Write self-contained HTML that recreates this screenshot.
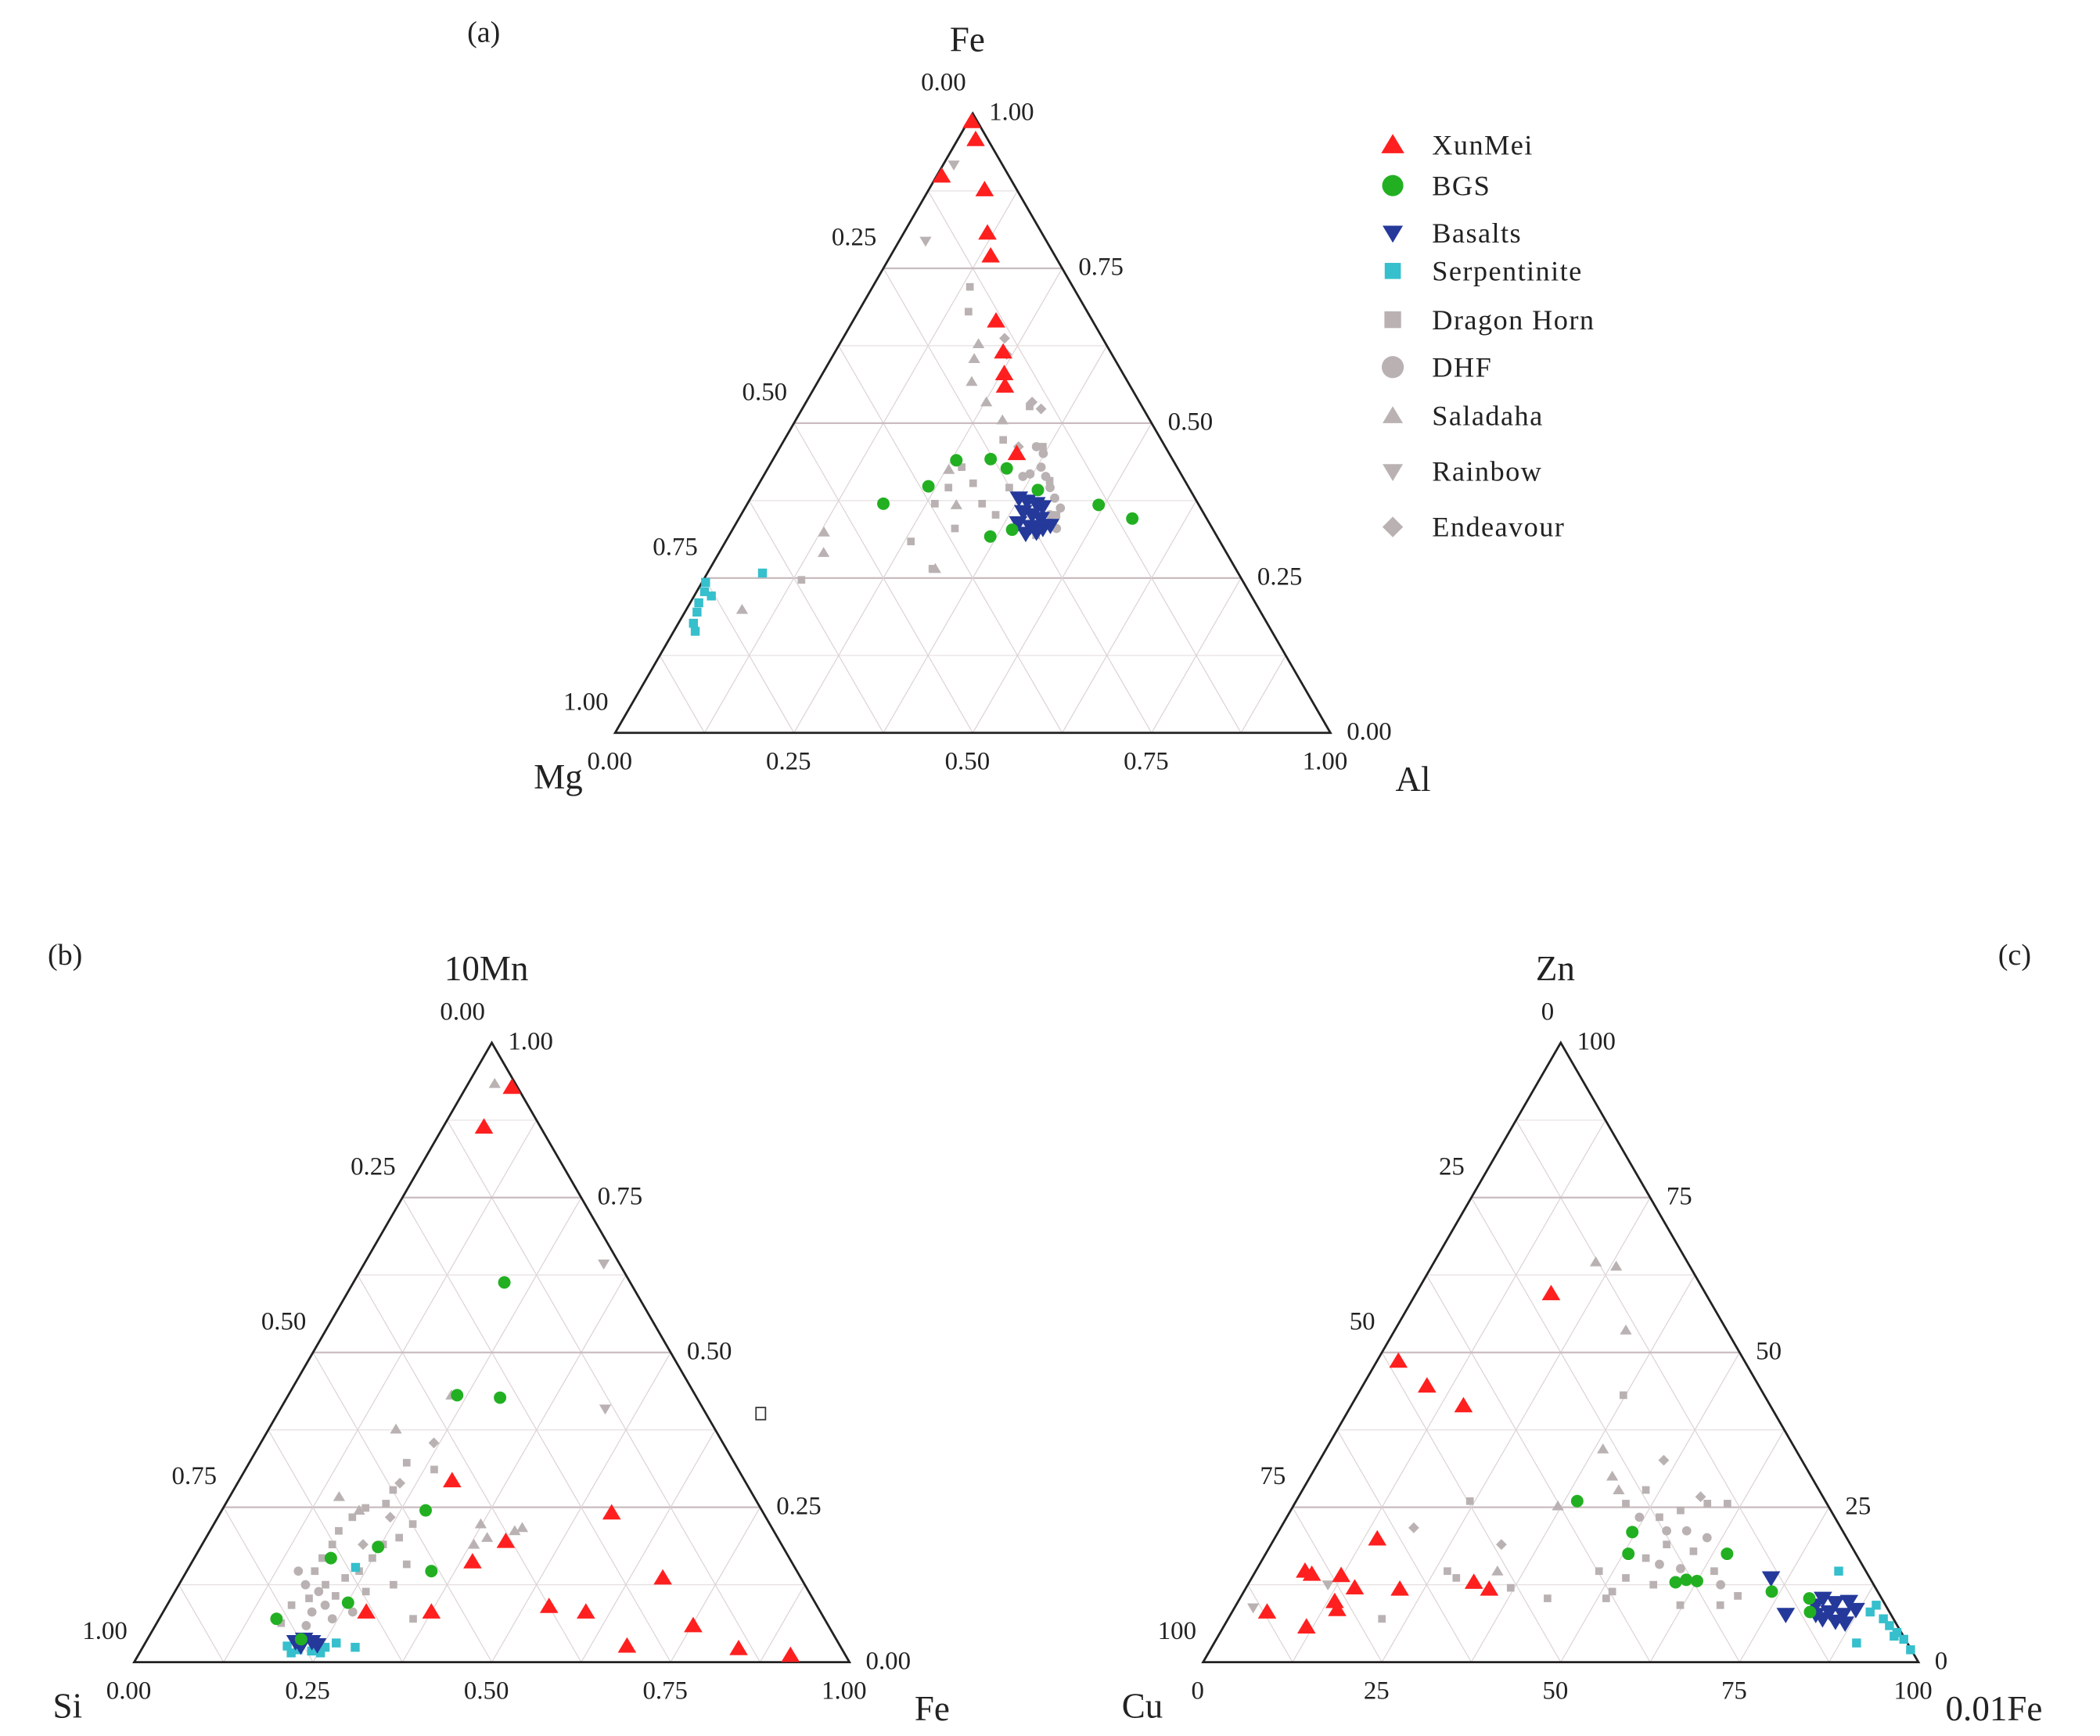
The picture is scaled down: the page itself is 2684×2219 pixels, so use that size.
<!DOCTYPE html>
<html><head><meta charset="utf-8"><style>
html,body{margin:0;padding:0;background:#fff}
svg{display:block}
text{font-family:"Liberation Serif",serif;fill:#222}
</style></head><body>
<svg id="fig" xmlns="http://www.w3.org/2000/svg" width="2684" height="2219" viewBox="0 0 1550 1281.5">
<rect x="0" y="0" width="1550" height="1281.5" fill="#fff"/>
<g id="layer"></g>
</svg>
<script>
// ---------- data (top, right) fractions ----------
const ticksAB = ["0.00","0.25","0.50","0.75","1.00"];
const ticksC = ["0","25","50","75","100"];
const seriesNames = ["XunMei","BGS","Basalts","Serpentinite","Dragon Horn","DHF","Saladaha","Rainbow","Endeavour"];

// chart a: top=Fe, right=Al
const aXunMei=[[0.987,0.005],[0.958,0.025],[0.899,0.007],[0.877,0.078],[0.807,0.117],[0.770,0.14],[0.665,0.20],[0.615,0.235],[0.580,0.254],[0.560,0.265],[0.451,0.336]];
const aBGS=[[0.370,0.19],[0.398,0.239],[0.44,0.257],[0.442,0.304],[0.427,0.334],[0.392,0.395],[0.368,0.492],[0.346,0.55],[0.317,0.366],[0.328,0.391]];
const aBasalts=[[0.379,0.375],[0.374,0.389],[0.370,0.404],[0.365,0.415],[0.357,0.392],[0.352,0.407],[0.346,0.422],[0.339,0.394],[0.333,0.414],[0.330,0.433],[0.322,0.413],[0.324,0.427],[0.335,0.441]];
const aSerp=[[0.243,0.005],[0.228,0.011],[0.210,0.012],[0.195,0.017],[0.177,0.021],[0.164,0.03],[0.221,0.024],[0.258,0.077]];
const aDragon=[[0.720,0.136],[0.680,0.154],[0.429,0.27],[0.403,0.299],[0.396,0.353],[0.396,0.268],[0.370,0.262],[0.330,0.31],[0.309,0.259],[0.265,0.311],[0.247,0.137],[0.473,0.306],[0.527,0.316],[0.462,0.367],[0.407,0.404],[0.352,0.441],[0.352,0.356],[0.370,0.328],[0.319,0.429]];
const aDHF=[[0.462,0.358],[0.451,0.373],[0.429,0.381],[0.414,0.395],[0.396,0.41],[0.379,0.425],[0.370,0.413],[0.392,0.393],[0.418,0.371],[0.352,0.432],[0.330,0.452],[0.414,0.363],[0.363,0.441]];
const aSaladaha=[[0.628,0.194],[0.604,0.2],[0.567,0.215],[0.534,0.252],[0.425,0.254],[0.368,0.293],[0.324,0.13],[0.291,0.146],[0.265,0.315],[0.199,0.078],[0.505,0.289]];
const aRainbow=[[0.917,0.015],[0.794,0.037]];
const aEndeavour=[[0.637,0.226],[0.611,0.242],[0.534,0.316],[0.523,0.334],[0.462,0.333]];

// chart b: top=10Mn, right=Fe
const bXunMei=[[0.928,0.064],[0.864,0.057],[0.293,0.298],[0.195,0.422],[0.162,0.392],[0.081,0.375],[0.081,0.284],[0.241,0.547],[0.136,0.671],[0.090,0.535],[0.081,0.591],[0.059,0.752],[0.026,0.676],[0.022,0.834],[0.011,0.912]];
const bBGS=[[0.613,0.211],[0.431,0.236],[0.427,0.298],[0.245,0.285],[0.186,0.248],[0.168,0.191],[0.147,0.342],[0.096,0.251],[0.070,0.164],[0.037,0.215]];
const bBasalts=[[0.033,0.209],[0.037,0.219],[0.033,0.232],[0.026,0.22],[0.028,0.242]];
const bSerp=[[0.153,0.233],[0.026,0.201],[0.020,0.219],[0.018,0.239],[0.024,0.255],[0.031,0.267],[0.024,0.297],[0.015,0.212],[0.015,0.253]];
const bDragon=[[0.322,0.22],[0.278,0.223],[0.256,0.224],[0.249,0.199],[0.234,0.188],[0.212,0.18],[0.190,0.182],[0.168,0.179],[0.147,0.179],[0.125,0.205],[0.103,0.193],[0.107,0.228],[0.136,0.227],[0.147,0.241],[0.168,0.249],[0.190,0.253],[0.201,0.27],[0.223,0.278],[0.311,0.264],[0.092,0.174],[0.063,0.174],[0.158,0.302],[0.125,0.3],[0.114,0.267],[0.070,0.355]];
const bDHF=[[0.147,0.156],[0.125,0.177],[0.114,0.201],[0.081,0.208],[0.070,0.242],[0.092,0.221],[0.081,0.265],[0.059,0.211]];
const bSaladaha=[[0.934,0.037],[0.376,0.178],[0.431,0.228],[0.245,0.192],[0.267,0.153],[0.223,0.373],[0.201,0.393],[0.212,0.426],[0.190,0.38],[0.217,0.434]];
const bRainbow=[[0.643,0.335],[0.409,0.454]];
const bEndeavour=[[0.289,0.227],[0.234,0.241],[0.354,0.242],[0.190,0.225]];

// chart c: top=Zn, right=0.01Fe
const cXunMei=[[0.595,0.189],[0.486,0.03],[0.446,0.09],[0.414,0.157],[0.199,0.144],[0.147,0.069],[0.142,0.081],[0.140,0.123],[0.120,0.152],[0.118,0.216],[0.129,0.314],[0.118,0.341],[0.098,0.135],[0.085,0.145],[0.081,0.049],[0.057,0.116]];
const cBGS=[[0.260,0.393],[0.210,0.495],[0.175,0.507],[0.129,0.596],[0.133,0.609],[0.131,0.625],[0.175,0.645],[0.114,0.738],[0.103,0.796],[0.081,0.808]];
const cBasalts=[[0.136,0.726],[0.077,0.776],[0.092,0.81],[0.103,0.815],[0.081,0.835],[0.096,0.836],[0.077,0.856],[0.098,0.854],[0.085,0.87],[0.070,0.831],[0.066,0.851],[0.077,0.818],[0.063,0.866]];
const cSerp=[[0.147,0.815],[0.031,0.898],[0.081,0.892],[0.070,0.916],[0.059,0.93],[0.048,0.946],[0.037,0.961],[0.020,0.979],[0.092,0.895],[0.042,0.945]];
const cDragon=[[0.256,0.463],[0.278,0.48],[0.234,0.521],[0.245,0.545],[0.256,0.577],[0.256,0.605],[0.190,0.553],[0.168,0.535],[0.179,0.596],[0.147,0.641],[0.136,0.523],[0.114,0.515],[0.125,0.567],[0.103,0.512],[0.107,0.694],[0.092,0.677],[0.431,0.372],[0.260,0.243],[0.147,0.268],[0.070,0.215],[0.136,0.286],[0.120,0.37],[0.103,0.43],[0.092,0.621],[0.147,0.48]];
const cDHF=[[0.234,0.493],[0.212,0.542],[0.212,0.57],[0.201,0.604],[0.158,0.559],[0.151,0.592],[0.125,0.661]];
const cSaladaha=[[0.646,0.226],[0.639,0.258],[0.536,0.323],[0.344,0.387],[0.300,0.422],[0.252,0.37],[0.147,0.338],[0.278,0.442]];
const cRainbow=[[0.088,0.026],[0.125,0.112]];
const cEndeavour=[[0.217,0.186],[0.326,0.481],[0.267,0.562],[0.190,0.322]];

// ---------- drawing ----------
const NS="http://www.w3.org/2000/svg";
const layer=document.getElementById('layer');
const tris={a:{x0:454,y0:541,s:528},b:{x0:99,y0:1227,s:528},c:{x0:888,y0:1227,s:528}};
function P(t,top,right){const h=t.s*Math.sqrt(3)/2;return [t.x0+t.s*(right+top/2),t.y0-h*top];}
function mk(tag,attrs,parent){const e=document.createElementNS(NS,tag);for(const k in attrs)e.setAttribute(k,attrs[k]);(parent||layer).appendChild(e);return e;}
function txt(x,y,s,size,anchor,parent){const e=mk('text',{x:x,y:y,'font-size':size,'text-anchor':anchor||'middle'},parent);e.textContent=s;return e;}

const styles={
 XunMei:{shape:'up',fill:'#ff1f1f',r:6.5},
 BGS:{shape:'circle',fill:'#22b022',r:4.6},
 Basalts:{shape:'down',fill:'#24399a',r:6.5},
 Serpentinite:{shape:'square',fill:'#36bfcc',r:3.3},
 'Dragon Horn':{shape:'square',fill:'#bab2b2',r:2.8},
 DHF:{shape:'circle',fill:'#bab2b2',r:3.4},
 Saladaha:{shape:'up',fill:'#bab2b2',r:4.2},
 Rainbow:{shape:'down',fill:'#bab2b2',r:4.2},
 Endeavour:{shape:'diamond',fill:'#bab2b2',r:4}
};
function marker(shape,x,y,r,fill,parent){
 let e;
 if(shape==='circle')e=mk('circle',{cx:x,cy:y,r:r,fill:fill},parent);
 else if(shape==='square')e=mk('rect',{x:x-r,y:y-r,width:2*r,height:2*r,fill:fill},parent);
 else if(shape==='up')e=mk('polygon',{points:`${x},${y-r} ${x+r*1.05},${y+r*0.75} ${x-r*1.05},${y+r*0.75}`,fill:fill},parent);
 else if(shape==='down')e=mk('polygon',{points:`${x},${y+r} ${x+r*1.05},${y-r*0.75} ${x-r*1.05},${y-r*0.75}`,fill:fill},parent);
 else e=mk('polygon',{points:`${x},${y-r} ${x+r},${y} ${x},${y+r} ${x-r},${y}`,fill:fill},parent);
 return e;
}

function drawChart(key,t,names,ticks,data){
 const g=mk('g',{});
 
 
 const grid=mk('g',{},g);
 
 
 for(let i=1;i<8;i++){
  const f=i/8, major=(i%2===0);
  let a=P(t,f,0),b=P(t,f,1-f);
  const l1=mk('line',{x1:a[0],y1:a[1],x2:b[0],y2:b[1],stroke:major?'#c9bcbf':'#e6dfe0','stroke-width':major?1.3:0.7},grid);
  
  
  a=P(t,0,f);b=P(t,1-f,f);
  const l2=mk('line',{x1:a[0],y1:a[1],x2:b[0],y2:b[1],stroke:'#ddd3d5','stroke-width':0.7},grid);
  
  
  a=P(t,0,1-f);b=P(t,1-f,0);
  const l3=mk('line',{x1:a[0],y1:a[1],x2:b[0],y2:b[1],stroke:'#ddd3d5','stroke-width':0.7},grid);
  
  
 }
 const A=P(t,1,0),B=P(t,0,0),C=P(t,0,1);
 const fr=mk('polygon',{points:`${A} ${B} ${C}`,fill:'none',stroke:'#222','stroke-width':1.6},g);
 
 
 for(let i=0;i<5;i++){
  const f=i/4;
  let p=P(t,1-f,0);
  const tl=txt(p[0]-5,p[1]-17,ticks[i],19,'end',g);
  
  
  p=P(t,f,1-f);
  const tr=txt(p[0]+12,p[1]+5,ticks[i],19,'start',g);
  
  
  p=P(t,0,f);
  const tb=txt(p[0]-4,p[1]+27,ticks[i],19,'middle',g);
  
  
 }
 const n1=txt(A[0]-4,A[1]-46,names[0],26,'middle',g);
 
 
 const n2=txt(B[0]-60,B[1]+41,names[1],26,'start',g);
 
 
 const n3=txt(C[0]+(key==='c'?20:48),C[1]+43,names[2],26,'start',g);
 
 
 const order=[4,5,6,7,8,3,2,1,0];
 order.forEach(si=>{
  const nm=seriesNames[si],st=styles[nm];
  const sg=mk('g',{},g);
  
  
  data[si].forEach(d=>{
   const p=P(t,d[0],d[1]);
   const m=marker(st.shape,p[0],p[1],st.r,st.fill,sg);
   
   
  });
 });
}
drawChart('a',tris.a,['Fe','Mg','Al'],ticksAB,[aXunMei,aBGS,aBasalts,aSerp,aDragon,aDHF,aSaladaha,aRainbow,aEndeavour]);
drawChart('b',tris.b,['10Mn','Si','Fe'],ticksAB,[bXunMei,bBGS,bBasalts,bSerp,bDragon,bDHF,bSaladaha,bRainbow,bEndeavour]);
drawChart('c',tris.c,['Zn','Cu','0.01Fe'],ticksC,[cXunMei,cBGS,cBasalts,cSerp,cDragon,cDHF,cSaladaha,cRainbow,cEndeavour]);

const pa=txt(357,31,'(a)',22,'middle');


const pb=txt(48,712,'(b)',22,'middle');


const pc=txt(1487,712,'(c)',22,'middle');



const sr=mk('rect',{x:558,y:1039,width:7,height:9,fill:'none',stroke:'#333','stroke-width':1});



const legendY=[107,137,172,200,236,271,307,348,389];
const lg=mk('g',{});


const legScale={XunMei:1.25,BGS:1.7,Basalts:1.1,Serpentinite:1.8,'Dragon Horn':2.2,DHF:2.4,Saladaha:1.7,Rainbow:1.7,Endeavour:1.9};
seriesNames.forEach((nm,i)=>{
 const st=styles[nm];
 const e=mk('g',{},lg);
 
 
 const m=marker(st.shape,1028,legendY[i],st.r*legScale[nm],st.fill,e);
 
 
 const tt=txt(1057,legendY[i]+7,nm,21,'start',e);
 tt.setAttribute('letter-spacing','0.8');
 
 
});
</script>
</body></html>
